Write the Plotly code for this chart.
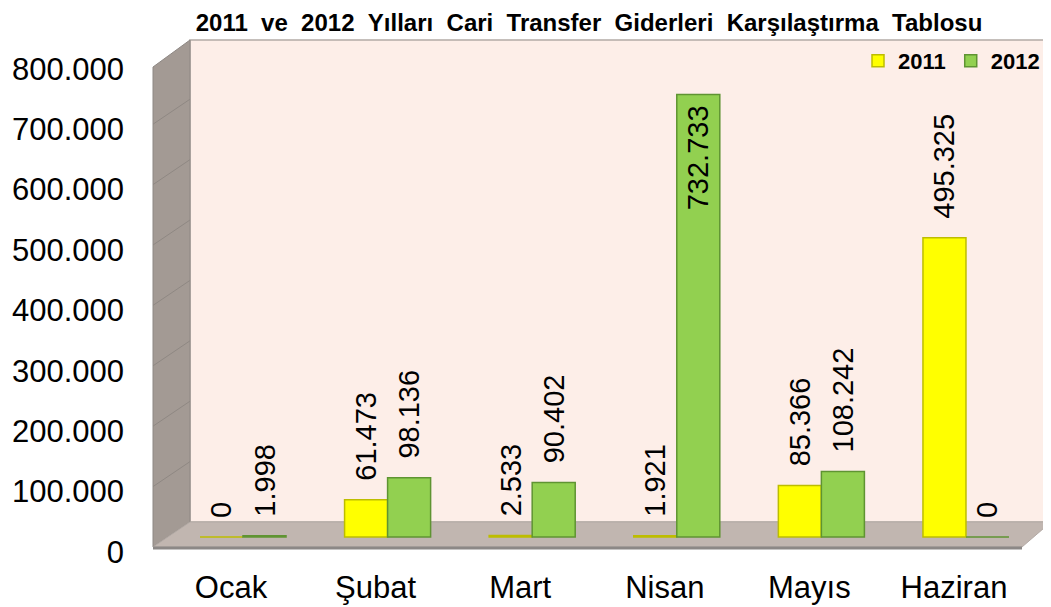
import plotly.graph_objects as go

# ---- data ----
months = ["Ocak", "Şubat", "Mart", "Nisan", "Mayıs", "Haziran"]
values_2011 = [0, 61473, 2533, 1921, 85366, 495325]
values_2012 = [1998, 98136, 90402, 732733, 108242, 0]
series_names = ["2011", "2012"]
tick_values = [0, 100000, 200000, 300000, 400000, 500000, 600000, 700000, 800000]
title_text = "2011 ve 2012 Yılları Cari Transfer Giderleri Karşılaştırma Tablosu"

# ---- geometry (reference pixels) ----
W, H = 1051, 607
OFF = 8  # page offset of the figure inside the browser window
FONT = "Liberation Sans, Arial, sans-serif"
S = 60.4 / 100000.0          # pixels per unit
PLOT_TOP, PLOT_BOT = 40, 552
BAR_ZERO, WALL_ZERO = 537, 522
plot_h = PLOT_BOT - PLOT_TOP
y_low = -(PLOT_BOT - BAR_ZERO) / S
y_high = y_low + plot_h / S
y2_low = -(PLOT_BOT - WALL_ZERO) / S
y2_high = y2_low + plot_h / S


def px(x):
    return (x - OFF) / W


def py(y):
    return 1 - (y - OFF) / H


YELLOW, YELLOW_LINE = "#FFFF00", "#BDBD00"
GREEN, GREEN_LINE = "#92D050", "#5F9432"

fig = go.Figure()
fig.add_trace(go.Bar(
    name=series_names[0], x=months, y=values_2011,
    marker=dict(color=YELLOW, line=dict(color=YELLOW_LINE, width=1.5)),
    texttemplate="\u00a0\u00a0%{y:,}", textposition="outside", textangle=-90,
    textfont=dict(family=FONT, size=29, color="black"),
    constraintext="none", cliponaxis=False,
))
pos_2012 = ["inside" if v > 600000 else "outside" for v in values_2012]
tmpl_2012 = ["%{y:,}\u00a0" if p == "inside" else "\u00a0\u00a0%{y:,}" for p in pos_2012]
fig.add_trace(go.Bar(
    name=series_names[1], x=months, y=values_2012,
    marker=dict(color=GREEN, line=dict(color=GREEN_LINE, width=1.5)),
    texttemplate=tmpl_2012, textposition=pos_2012, textangle=-90,
    insidetextanchor="end",
    textfont=dict(family=FONT, size=29, color="black"),
    constraintext="none", cliponaxis=False,
))

shapes = []
# back wall
shapes.append(dict(type="rect", xref="paper", yref="paper", layer="below",
                   x0=px(190), x1=px(1060), y0=py(522), y1=py(40),
                   fillcolor="#FDEEE8", line=dict(color="#B3AAA5", width=1.5)))
# left wall
shapes.append(dict(type="path", xref="paper", yref="paper", layer="below",
                   path=f"M{px(153)},{py(67)} L{px(190)},{py(40)} L{px(190)},{py(522)} L{px(153)},{py(547)} Z",
                   fillcolor="#A39A94", line=dict(color="#8E8884", width=1)))
# floor
shapes.append(dict(type="path", xref="paper", yref="paper", layer="below",
                   path=f"M{px(153)},{py(547)} L{px(190)},{py(522)} L{px(1051)},{py(522)} L{px(1022)},{py(547)} Z",
                   fillcolor="#C1B6B0", line=dict(color="#B3AAA5", width=1)))
shapes.append(dict(type="line", xref="paper", yref="paper", layer="below",
                   x0=px(153), x1=px(1022), y0=py(548), y1=py(548),
                   line=dict(color="#8C8886", width=3)))
# faint diagonal grid on the left wall
for v in tick_values[1:-1]:
    shapes.append(dict(type="line", xref="paper", yref="paper", layer="below",
                       x0=px(153), y0=py(547 - S * v), x1=px(190), y1=py(522 - S * v),
                       line=dict(color="#8F8883", width=1)))

title_display = title_text.replace(" ", " \u00a0")

fig.update_layout(
    width=W, height=H, autosize=False,
    margin=dict(l=0, r=0, t=0, b=0, autoexpand=False),
    paper_bgcolor="white", plot_bgcolor="rgba(0,0,0,0)",
    separators=",.",
    barmode="group", bargap=0.405, bargroupgap=0,
    font=dict(family=FONT, color="black"),
    title=dict(text=f"<b>{title_display}</b>", x=px(589), xanchor="center",
               y=py(23), yanchor="middle", font=dict(family=FONT, size=24, color="black")),
    legend=dict(orientation="h", x=px(858), xanchor="left", y=py(40), yanchor="top",
                bgcolor="rgba(0,0,0,0)", font=dict(family=FONT, size=22, color="black", weight="bold"),
                traceorder="normal", itemwidth=30),
    shapes=shapes,
    xaxis=dict(domain=[px(190), px(1051)], range=[-0.3665, 5.588], showgrid=False, zeroline=False,
               showline=False, ticks="", tickfont=dict(family=FONT, size=31, color="black"),
               ticklabelshift=-12, ticklabelstandoff=14),
    yaxis=dict(domain=[py(PLOT_BOT), py(PLOT_TOP)], range=[y_low, y_high],
               tickvals=tick_values, tickformat=",", showgrid=False, zeroline=False,
               showline=False, ticks="", tickfont=dict(family=FONT, size=31, color="black"),
               ticklabelshift=(PLOT_BOT - BAR_ZERO), ticklabelstandoff=65),
    yaxis2=dict(overlaying="y", anchor="x", range=[y2_low, y2_high], tick0=0, dtick=100000,
                showgrid=True, gridcolor="#8E8A87", gridwidth=2, zeroline=False,
                showticklabels=False, ticks="", showline=False),
)

fig.write_html("out.html")
